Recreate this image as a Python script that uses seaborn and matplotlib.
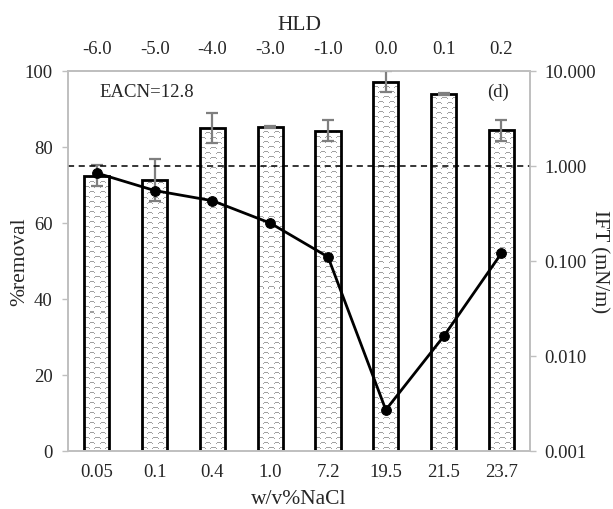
import numpy as np
import pandas as pd
import matplotlib
matplotlib.use("Agg")
import matplotlib.pyplot as plt
import seaborn as sns

# Salinity series (w/v % NaCl) and the matching HLD values
nacl_labels = ["0.05", "0.1", "0.4", "1.0", "7.2", "19.5", "21.5", "23.7"]
hld_labels = ["-6.0", "-5.0", "-4.0", "-3.0", "-1.0", "0.0", "0.1", "0.2"]

# Oil removal (%) with standard deviation
removal = [72.4, 71.3, 85.0, 85.3, 84.3, 97.2, 93.9, 84.4]
removal_err = [2.8, 5.5, 4.0, 0.3, 2.8, 2.8, 0.3, 2.8]

# Interfacial tension (mN/m)
ift = [0.84, 0.55, 0.43, 0.25, 0.11, 0.0027, 0.016, 0.12]

sns.set_theme(style="white")
plt.rcParams["font.family"] = ["Liberation Serif", "DejaVu Serif"]

GRAY = "#bfbfbf"
TICK_FS = 13.5
LABEL_FS = 15.5
BAR_W = 0.435

df = pd.DataFrame({"nacl": nacl_labels, "removal": removal})

W_PX, H_PX = 613, 510
fig = plt.figure(figsize=(W_PX / 100, H_PX / 100), dpi=100)
ax = fig.add_axes([0.111, 0.114, 0.754, 0.745])
ax_w_px = 0.754 * W_PX
ax_h_px = 0.745 * H_PX


def wave_texture(h_px, w_px):
    """Gray dashed wavy pattern used as the bar fill."""
    yy, xx = np.mgrid[0:h_px, 0:w_px]
    period, spacing = 10.0, 5
    row = yy // spacing
    shift = (row % 2) * (period / 2)
    wave = 1.2 * np.sin(2 * np.pi * (xx + shift) / period)
    dist = (yy % spacing) - (spacing - 1) / 2.0 - wave
    on = np.abs(dist) < 0.7
    on &= ((xx + shift) % period) < 6
    img = np.zeros((h_px, w_px, 4))
    img[..., :3] = 0.63
    img[..., 3] = on.astype(float)
    return img


# white bars that carry the texture
sns.barplot(data=df, x="nacl", y="removal", order=nacl_labels, ax=ax,
            color="white", width=BAR_W, errorbar=None, linewidth=0)
for p in list(ax.patches):
    x0, w, h = p.get_x(), p.get_width(), p.get_height()
    hp = max(int(round(h / 100 * ax_h_px)), 1)
    wp = max(int(round(w / 8 * ax_w_px)), 1)
    im = ax.imshow(wave_texture(hp, wp), extent=[x0, x0 + w, 0, h],
                   origin="lower", interpolation="nearest", aspect="auto",
                   zorder=1.5)
    im.set_clip_path(p)

# black outlines on top of the fill
sns.barplot(data=df, x="nacl", y="removal", order=nacl_labels, ax=ax,
            fill=False, width=BAR_W, errorbar=None,
            edgecolor="black", linewidth=2.0, zorder=2)

xpos = np.arange(len(nacl_labels))
ax.errorbar(xpos, removal, yerr=removal_err, fmt="none", ecolor="#7f7f7f",
            elinewidth=1.6, capsize=4.5, capthick=1.6, zorder=5)

ax.set_aspect("auto")
ax.set_ylim(0, 100)
ax.set_xlim(-0.5, len(nacl_labels) - 0.5)
ax.set_yticks([0, 20, 40, 60, 80, 100])
ax.set_ylabel("")
ax.set_xlabel("w/v%NaCl", fontsize=LABEL_FS, labelpad=6)
ax.set_xticks(xpos)
ax.set_xticklabels(nacl_labels)
ax.tick_params(axis="x", length=0, labelsize=TICK_FS, pad=9)
ax.tick_params(axis="y", length=4, width=1, color=GRAY, labelsize=TICK_FS,
               left=True, pad=7)
# tick marks between categories on the bottom axis
ax.set_xticks(np.arange(len(nacl_labels) + 1) - 0.5, minor=True)
ax.tick_params(axis="x", which="minor", length=4, width=1, color=GRAY,
               bottom=True)
for s in ax.spines.values():
    s.set_color(GRAY)
    s.set_linewidth(1.2)
fig.text(20 / W_PX, 1 - 262 / H_PX, "%removal", rotation=90,
         fontsize=LABEL_FS, ha="center", va="center")

# IFT on a logarithmic secondary axis
ax2 = ax.twinx()
line_df = pd.DataFrame({"pos": xpos, "ift": ift})
sns.lineplot(data=line_df, x="pos", y="ift", ax=ax2, color="black",
             linewidth=2.0, marker="o", markersize=7,
             markeredgecolor="black", zorder=6)
ax2.set_yscale("log")
ax2.set_ylim(0.001, 10)
ax2.set_yticks([0.001, 0.01, 0.1, 1, 10])
ax2.set_yticklabels(["0.001", "0.010", "0.100", "1.000", "10.000"])
ax2.minorticks_off()
ax2.axhline(1.0, color="black", linestyle=(0, (4, 3)), linewidth=1.1)
ax2.set_ylabel("")
ax2.set_xlabel("")
ax2.tick_params(axis="y", length=4, width=1, color=GRAY, labelsize=TICK_FS,
                right=True, pad=6)
ax2.set_xlim(-0.5, len(nacl_labels) - 0.5)
for s in ax2.spines.values():
    s.set_color(GRAY)
    s.set_linewidth(1.2)
fig.text(599 / W_PX, 1 - 262 / H_PX, "IFT (mN/m)", rotation=270,
         fontsize=LABEL_FS - 0.5, ha="center", va="center")

# HLD on the top axis
ax3 = ax.secondary_xaxis("top")
ax3.set_xticks(xpos)
ax3.set_xticklabels(hld_labels)
ax3.tick_params(axis="x", length=0, labelsize=TICK_FS, pad=10)
ax3.set_xlabel("HLD", fontsize=LABEL_FS, labelpad=8)
ax3.spines["top"].set_color(GRAY)

ax.text(0.067, 0.947, "EACN=12.8", transform=ax.transAxes, fontsize=TICK_FS,
        ha="left", va="center")
ax.text(0.93, 0.947, "(d)", transform=ax.transAxes, fontsize=TICK_FS,
        ha="center", va="center")

fig.savefig("out.png", dpi=100)
